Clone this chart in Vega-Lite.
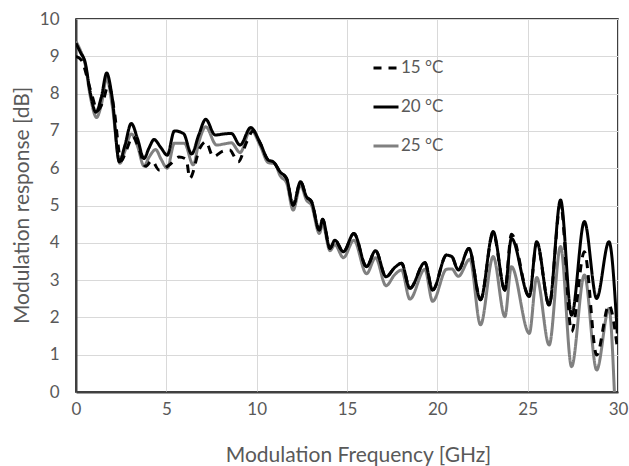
{
  "$schema": "https://vega.github.io/schema/vega-lite/v6.json",
  "width": 542,
  "height": 373,
  "autosize": "none",
  "padding": {"left": 76, "top": 19, "right": 11, "bottom": 74},
  "background": "white",
  "datasets": {
    "t15": [
      [0,9.0],[0.3,8.9],[0.8,8.1],[1.2,7.55],[1.5,7.8],[1.8,8.25],[2.1,7.6],[2.5,6.2],[2.8,6.5],[3.15,6.85],[3.5,6.5],[3.85,6.05],[4.2,6.2],[4.6,5.95],[4.9,6.0],[5.2,6.1],[5.7,6.3],[6.1,6.24],[6.3,5.73],[6.86,6.54],[7.18,6.71],[7.6,6.31],[8.1,6.45],[8.5,6.49],[8.98,6.17],[9.45,6.71],[9.8,7.0],[10.2,6.67],[10.64,6.22],[10.92,6.17],[11.3,5.9],[11.66,5.72],[12.02,5.01],[12.43,5.64],[12.75,5.24],[13.04,5.1],[13.47,4.34],[13.65,4.63],[14.06,3.85],[14.33,4.07],[14.8,3.76],[15.38,4.25],[16.08,3.36],[16.58,3.79],[17.16,3.09],[17.65,3.34],[18.02,3.45],[18.48,2.78],[19.31,3.47],[19.74,2.73],[20.51,3.67],[20.8,3.63],[21.16,3.27],[21.75,3.85],[22.39,2.47],[23.09,4.25],[23.74,2.73],[24.1,4.23],[25.09,2.56],[25.5,4.0],[26.19,2.33],[26.82,5.05],[27.43,1.62],[28.14,3.76],[28.82,0.99],[29.5,2.33],[29.96,1.2]
    ],
    "t20": [
      [0,9.35],[0.25,9.1],[0.5,8.85],[0.8,8.0],[1.1,7.5],[1.4,7.9],[1.7,8.55],[2.0,7.9],[2.4,6.17],[2.7,6.6],[3.06,7.2],[3.4,6.8],[3.76,6.26],[4.05,6.55],[4.32,6.77],[4.7,6.55],[5.05,6.35],[5.45,7.0],[5.95,6.93],[6.4,6.38],[6.8,6.9],[7.18,7.31],[7.7,6.89],[8.2,6.92],[8.6,6.93],[9.08,6.62],[9.67,7.09],[10.2,6.67],[10.64,6.22],[10.92,6.17],[11.3,5.9],[11.66,5.72],[12.02,5.01],[12.43,5.64],[12.75,5.24],[13.04,5.1],[13.47,4.34],[13.65,4.63],[14.06,3.85],[14.33,4.07],[14.8,3.76],[15.38,4.25],[16.08,3.36],[16.58,3.79],[17.16,3.09],[17.65,3.34],[18.02,3.45],[18.48,2.78],[19.31,3.47],[19.74,2.73],[20.51,3.67],[20.8,3.63],[21.16,3.27],[21.75,3.85],[22.39,2.47],[23.09,4.3],[23.74,2.73],[24.1,4.12],[25.09,2.56],[25.5,4.03],[26.19,2.33],[26.82,5.15],[27.43,2.06],[28.14,4.57],[28.82,2.51],[29.5,4.03],[29.96,1.57]
    ],
    "t25": [
      [0,9.4],[0.25,9.15],[0.5,8.8],[0.8,7.9],[1.14,7.36],[1.4,7.7],[1.7,8.41],[2.0,7.7],[2.43,6.13],[2.7,6.45],[3.06,6.92],[3.4,6.6],[3.76,6.06],[4.05,6.3],[4.41,6.5],[4.7,6.25],[5.05,6.0],[5.45,6.67],[6.0,6.67],[6.49,6.09],[6.8,6.7],[7.18,7.11],[7.78,6.62],[8.2,6.65],[8.6,6.68],[9.08,6.42],[9.67,7.04],[10.2,6.6],[10.64,6.15],[11.0,6.12],[11.3,5.8],[11.66,5.6],[12.02,4.88],[12.43,5.55],[12.75,5.15],[13.04,5.0],[13.47,4.25],[13.65,4.5],[14.06,3.79],[14.33,3.95],[14.8,3.6],[15.38,4.07],[16.08,3.17],[16.58,3.6],[17.16,2.85],[17.65,3.15],[18.02,3.27],[18.48,2.49],[19.31,3.29],[19.74,2.43],[20.51,3.29],[20.8,3.3],[21.16,3.1],[21.8,3.56],[22.39,1.8],[23.09,3.63],[23.74,2.02],[24.1,3.36],[25.09,1.57],[25.5,3.07],[26.19,1.26],[26.82,3.9],[27.43,0.68],[28.14,3.14],[28.82,0.59],[29.5,2.24],[29.8,0.0]
    ]
  },
  "encoding": {
    "x": {
      "field": "f", "type": "quantitative",
      "scale": {"domain": [0, 30], "nice": false},
      "axis": {"title": "Modulation Frequency [GHz]", "values": [0,5,10,15,20,25,30], "labelPadding": 9, "titleX": 282, "titleY": 63, "titleBaseline": "middle", "titleAlign": "center"}
    },
    "y": {
      "field": "v", "type": "quantitative",
      "scale": {"domain": [0, 10], "nice": false},
      "axis": {"title": "Modulation response [dB]", "values": [0,1,2,3,4,5,6,7,8,9,10], "labelPadding": 17, "titleX": -54, "titleY": 186, "titleBaseline": "middle", "titleAlign": "center", "titleAngle": -90}
    },
    "color": {
      "field": "s", "type": "nominal",
      "scale": {"domain": ["15 °C", "20 °C", "25 °C"], "range": ["#000000", "#000000", "#808080"]},
      "legend": {"title": null, "orient": "none", "legendX": 296, "legendY": 35, "symbolType": "stroke", "symbolSize": 625, "symbolStrokeWidth": 3, "labelFontSize": 17, "labelColor": "#595959", "labelOffset": 1, "rowPadding": 17, "padding": 0}
    },
    "strokeDash": {
      "field": "s", "type": "nominal",
      "scale": {"domain": ["15 °C", "20 °C", "25 °C"], "range": [[8, 7], [1, 0], [1, 0]]},
      "legend": {"title": null, "orient": "none", "legendX": 296, "legendY": 35, "symbolType": "stroke", "symbolSize": 625, "symbolStrokeWidth": 3, "labelFontSize": 17, "labelColor": "#595959", "labelOffset": 1, "rowPadding": 17, "padding": 0}
    }
  },
  "layer": [
    {
      "data": {"name": "t25"},
      "transform": [
        {"calculate": "datum[0]", "as": "f"},
        {"calculate": "datum[1]", "as": "v"},
        {"calculate": "'25 °C'", "as": "s"}
      ],
      "mark": {"type": "line", "interpolate": "monotone", "strokeWidth": 3, "clip": true}
    },
    {
      "data": {"name": "t20"},
      "transform": [
        {"calculate": "datum[0]", "as": "f"},
        {"calculate": "datum[1]", "as": "v"},
        {"calculate": "'20 °C'", "as": "s"}
      ],
      "mark": {"type": "line", "interpolate": "monotone", "strokeWidth": 3, "clip": true}
    },
    {
      "data": {"name": "t15"},
      "transform": [
        {"calculate": "datum[0]", "as": "f"},
        {"calculate": "datum[1]", "as": "v"},
        {"calculate": "'15 °C'", "as": "s"}
      ],
      "mark": {"type": "line", "interpolate": "monotone", "strokeWidth": 3, "clip": true}
    }
  ],
  "config": {
    "font": "Lato",
    "view": {"stroke": "#000000", "strokeWidth": 1.5},
    "axis": {
      "grid": true,
      "gridColor": "#d9d9d9",
      "gridWidth": 1,
      "ticks": false,
      "tickSize": 0,
      "domainColor": "#404040",
      "domainWidth": 2,
      "labelFont": "Lato",
      "labelFontSize": 17,
      "labelColor": "#595959",
      "titleFont": "Lato",
      "titleFontSize": 21,
      "titleFontWeight": "normal",
      "titleColor": "#595959",
      "labelFlush": false,
      "labelOverlap": false
    },
    "legend": {"labelFont": "Lato"}
  }
}
